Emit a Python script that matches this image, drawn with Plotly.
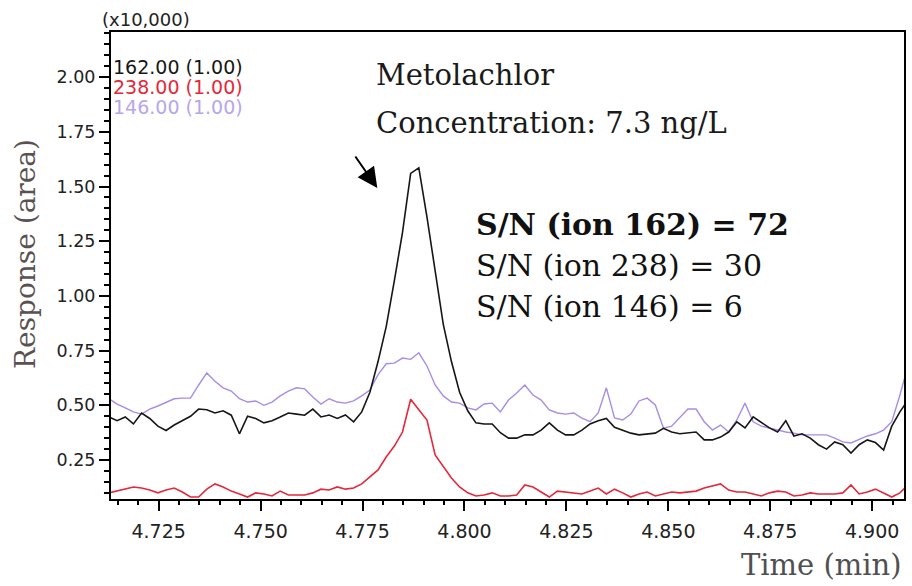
import plotly.graph_objects as go

# Extracted-ion chromatograms (response in units of 10,000), sampled every 0.002 min
T_START = 4.7128
T_STEP = 0.002

ion162 = [0.447, 0.43, 0.447, 0.415, 0.465, 0.44, 0.405, 0.385, 0.41, 0.43,
          0.45, 0.483, 0.48, 0.465, 0.475, 0.455, 0.37, 0.45, 0.44, 0.42,
          0.43, 0.447, 0.465, 0.46, 0.455, 0.483, 0.447, 0.456, 0.44, 0.456,
          0.425, 0.47, 0.56, 0.70, 0.86, 1.07, 1.29, 1.56, 1.585, 1.36,
          1.12, 0.87, 0.70, 0.56, 0.475, 0.42, 0.415, 0.415, 0.375, 0.35,
          0.35, 0.365, 0.365, 0.387, 0.42, 0.387, 0.365, 0.365, 0.387, 0.415,
          0.43, 0.44, 0.40, 0.387, 0.373, 0.365, 0.37, 0.373, 0.395, 0.378,
          0.37, 0.373, 0.378, 0.342, 0.342, 0.355, 0.378, 0.425, 0.397, 0.447,
          0.42, 0.397, 0.378, 0.43, 0.36, 0.37, 0.35, 0.32, 0.30, 0.333,
          0.32, 0.282, 0.32, 0.342, 0.33, 0.296, 0.405, 0.47, 0.525]

ion238 = [0.10, 0.108, 0.117, 0.127, 0.122, 0.113, 0.10, 0.113, 0.122, 0.104,
          0.081, 0.081, 0.117, 0.141, 0.127, 0.108, 0.095, 0.081, 0.10, 0.095,
          0.086, 0.108, 0.09, 0.09, 0.09, 0.10, 0.117, 0.113, 0.127, 0.117,
          0.122, 0.141, 0.173, 0.205, 0.264, 0.314, 0.378, 0.528, 0.48, 0.433,
          0.273, 0.223, 0.168, 0.127, 0.10, 0.086, 0.09, 0.10, 0.086, 0.086,
          0.09, 0.136, 0.127, 0.104, 0.081, 0.108, 0.104, 0.10, 0.095, 0.108,
          0.122, 0.095, 0.117, 0.10, 0.081, 0.095, 0.104, 0.086, 0.095, 0.104,
          0.10, 0.104, 0.108, 0.122, 0.131, 0.141, 0.113, 0.104, 0.104, 0.095,
          0.086, 0.10, 0.108, 0.104, 0.086, 0.09, 0.10, 0.095, 0.095, 0.095,
          0.10, 0.136, 0.095, 0.104, 0.117, 0.10, 0.081, 0.10, 0.136]

ion146 = [0.53, 0.506, 0.488, 0.47, 0.46, 0.483, 0.497, 0.515, 0.53, 0.533,
          0.533, 0.593, 0.648, 0.61, 0.58, 0.565, 0.53, 0.515, 0.52, 0.50,
          0.515, 0.543, 0.565, 0.58, 0.575, 0.538, 0.506, 0.53, 0.515, 0.51,
          0.52, 0.543, 0.57, 0.64, 0.69, 0.693, 0.716, 0.71, 0.74, 0.68,
          0.593, 0.543, 0.515, 0.51, 0.488, 0.479, 0.506, 0.51, 0.47, 0.524,
          0.556, 0.593, 0.547, 0.524, 0.479, 0.465, 0.46, 0.465, 0.442, 0.425,
          0.465, 0.58, 0.442, 0.433, 0.46, 0.52, 0.533, 0.502, 0.396, 0.405,
          0.442, 0.483, 0.483, 0.425, 0.387, 0.41, 0.378, 0.433, 0.51, 0.425,
          0.405, 0.396, 0.387, 0.378, 0.373, 0.365, 0.365, 0.365, 0.365, 0.35,
          0.333, 0.328, 0.345, 0.36, 0.37, 0.387, 0.425, 0.547, 0.684]

time = [round(T_START + T_STEP * i, 4) for i in range(len(ion162))]

channel_labels = ["162.00 (1.00)", "238.00 (1.00)", "146.00 (1.00)"]
sn_lines = ["S/N (ion 162) = 72", "S/N (ion 238) = 30", "S/N (ion 146) = 6"]

BLACK = "#161616"
RED = "#e5283a"
PURPLE = "#a98ce6"
PURPLE_TXT = "#b6a6ee"

fig = go.Figure()
fig.add_trace(go.Scatter(x=time, y=ion146, mode="lines", line=dict(color=PURPLE, width=1.4)))
fig.add_trace(go.Scatter(x=time, y=ion238, mode="lines", line=dict(color=RED, width=1.6)))
fig.add_trace(go.Scatter(x=time, y=ion162, mode="lines", line=dict(color=BLACK, width=1.6)))

sans = "DejaVu Sans"
serif = "DejaVu Serif"

fig.update_layout(
    width=912, height=586,
    margin=dict(l=111, r=6, t=32, b=87),
    paper_bgcolor="white", plot_bgcolor="white",
    showlegend=False,
    xaxis=dict(
        range=[4.7133, 4.9078], tickmode="array",
        tickvals=[4.725, 4.750, 4.775, 4.800, 4.825, 4.850, 4.875, 4.900],
        ticktext=["4.725", "4.750", "4.775", "4.800", "4.825", "4.850", "4.875", "4.900"],
        ticks="outside", ticklen=10, tickwidth=2, tickcolor="black",
        minor=dict(tick0=4.7, dtick=0.005, ticks="outside", ticklen=4, tickwidth=2, tickcolor="black"),
        showline=True, linecolor="black", linewidth=2, mirror=True,
        showgrid=False, zeroline=False,
        tickfont=dict(family=sans, size=19, color="#222"),
        ticklabelstandoff=4,
    ),
    yaxis=dict(
        range=[0.072, 2.206], tickmode="array",
        tickvals=[0.25, 0.50, 0.75, 1.00, 1.25, 1.50, 1.75, 2.00],
        ticktext=["0.25", "0.50", "0.75", "1.00", "1.25", "1.50", "1.75", "2.00"],
        ticks="outside", ticklen=10, tickwidth=2, tickcolor="black",
        minor=dict(tick0=0, dtick=0.05, ticks="outside", ticklen=5, tickwidth=2, tickcolor="black"),
        showline=True, linecolor="black", linewidth=2, mirror=True,
        showgrid=False, zeroline=False,
        tickfont=dict(family=sans, size=17.5, color="#222"),
        ticklabelstandoff=0,
    ),
)

# scale factor above the y axis
fig.add_annotation(xref="paper", yref="paper", x=0.044, y=1.0, xanchor="center", yanchor="bottom",
                   text="(x10,000)", showarrow=False, font=dict(family=sans, size=18, color="#222"))

# channel labels in the upper-left corner
for label, color, yp in zip(channel_labels, [BLACK, RED, PURPLE_TXT], [0.925, 0.883, 0.840]):
    fig.add_annotation(xref="paper", yref="paper", x=0.0, y=yp, xanchor="left", yanchor="middle",
                       text=label, showarrow=False, font=dict(family=sans, size=19, color=color))

# compound and concentration
fig.add_annotation(xref="paper", yref="paper", x=0.332, y=0.908, xanchor="left", yanchor="middle",
                   text="Metolachlor", showarrow=False, font=dict(family=serif, size=29, color="#1a1a1a"))
fig.add_annotation(xref="paper", yref="paper", x=0.332, y=0.805, xanchor="left", yanchor="middle",
                   text="Concentration: 7.3 ng/L", showarrow=False,
                   font=dict(family=serif, size=29, color="#1a1a1a"))

# signal-to-noise lines
for k, (line, yp) in enumerate(zip(sn_lines, [0.587, 0.499, 0.413])):
    txt = f"<b>{line}</b>" if k == 0 else line
    fig.add_annotation(xref="paper", yref="paper", x=0.458, y=yp, xanchor="left", yanchor="middle",
                       text=txt, showarrow=False, font=dict(family=serif, size=30, color="#111"))

# arrow toward the peak
fig.add_annotation(xref="paper", yref="paper", x=0.3358, y=0.666, text="", showarrow=True,
                   ax=-23, ay=-33, arrowhead=2, arrowsize=2, arrowwidth=2, arrowcolor="black",
                   standoff=0)

# axis titles
fig.add_annotation(xref="paper", yref="paper", x=1.0, y=-0.141, xanchor="right", yanchor="middle",
                   text="Time (min)", showarrow=False, font=dict(family=serif, size=29, color="#505050"))
fig.add_annotation(xref="paper", yref="paper", x=-0.107, y=0.525, xanchor="center", yanchor="middle",
                   text="Response (area)", textangle=-90, showarrow=False,
                   font=dict(family=serif, size=28, color="#5a5252"))

fig.write_html("out.html")
